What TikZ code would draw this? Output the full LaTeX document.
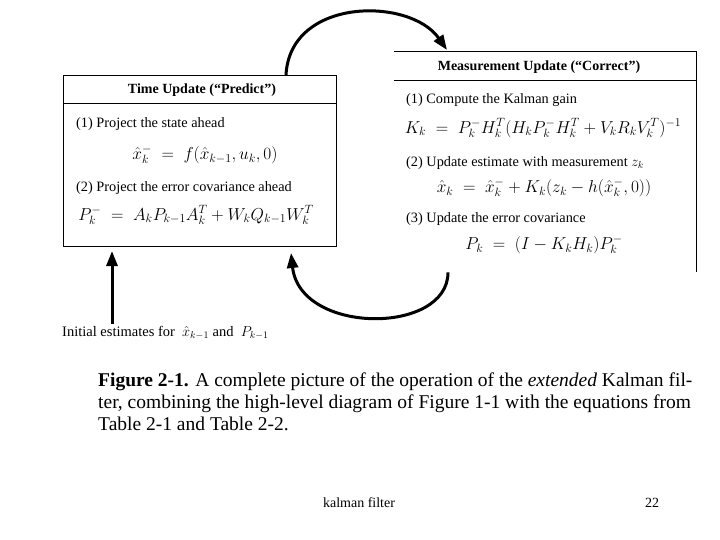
\documentclass[tikz,border=0pt]{standalone}
\usepackage{fontspec}
\setmainfont{Liberation Serif}
\usepackage{tikz}
\usetikzlibrary{arrows.meta,positioning,calc}

\begin{document}
\begin{tikzpicture}[
  x=1pt, y=-1pt,
  >={Triangle[length=15pt,width=11pt]},
  every node/.style={inner sep=0pt},
  updatebox/.style={
    rectangle, draw=black, line width=1pt,
    minimum width=273pt, minimum height=171pt, anchor=north west
  },
  headtext/.style={font=\fontsize{14}{16}\selectfont\bfseries},
  steptext/.style={font=\fontsize{14.3}{16}\selectfont, anchor=west},
  eqtext/.style={font=\fontsize{17}{20}\selectfont},
  cyclearrow/.style={->, line width=3pt},
  boxline/.style={line width=1pt}
]
\useasboundingbox (0,0) rectangle (720,540);

% Time update box (left)
\node[updatebox] (predict) at (63,75) {};
\draw[boxline] ($(predict.north west)+(0,29)$) coordinate (phead) -- (phead -| predict.east);
\node[headtext] (predicthead) at (202,90) {Time Update (``Predict'')};
\node[steptext] (pstep1) at (76,124) {(1) Project the state ahead};
\node[eqtext] (peq1) at (205,155) {$\hat{x}_k^- \;=\; f(\hat{x}_{k-1}, u_k, 0)$};
\node[steptext] (pstep2) at (76,188) {(2) Project the error covariance ahead};
\node[eqtext, font=\fontsize{18.5}{20}\selectfont] (peq2) at (196,215)
  {$P_k^- \;=\; A_k P_{k-1} A_k^T + W_k Q_{k-1} W_k^T$};

% Measurement update box (right, cut at left and bottom)
\node[minimum width=302pt, minimum height=220pt, anchor=north west] (correct) at (394,52) {};
\draw[boxline] (correct.north west) -- (correct.north east) -- (correct.south east);
\draw[boxline] ($(correct.north west)+(0,29)$) coordinate (chead) -- (chead -| correct.east);
\node[headtext] (correcthead) at (539,67) {Measurement Update (``Correct'')};
\node[steptext] (cstep1) at (406,100) {(1) Compute the Kalman gain};
\node[eqtext, font=\fontsize{17.8}{20}\selectfont] (ceq1) at (543,128)
  {$K_k \;=\; P_k^- H_k^T (H_k P_k^- H_k^T + V_k R_k V_k^T)^{-1}$};
\node[steptext] (cstep2) at (406,163) {(2) Update estimate with measurement $z_k$};
\node[eqtext] (ceq2) at (544,188) {$\hat{x}_k \;=\; \hat{x}_k^- + K_k(z_k - h(\hat{x}_k^-, 0))$};
\node[steptext] (cstep3) at (406,219) {(3) Update the error covariance};
\node[eqtext] (ceq3) at (544,245) {$P_k \;=\; (I - K_k H_k) P_k^-$};

% Initial estimates
\node[font=\fontsize{14.5}{16}\selectfont, anchor=west] (init) at (62,333)
  {Initial estimates for \ $\hat{x}_{k-1}$ and \ $P_{k-1}$};

% Cycle arrows
\coordinate (predout) at ($(predict.north east)+(-51,0)$);
\coordinate (corrin) at ($(correct.north west)+(53,-2)$);
\coordinate (corrout) at ($(correct.south west)+(54,0)$);
\coordinate (predin) at ($(predict.south east)+(-46,6)$);
\draw[cyclearrow] (predout) .. controls (290,-3) and (410,-3) .. (corrin);
\draw[cyclearrow] (corrout) .. controls (448,335) and (300,335) .. (predin);
\draw[cyclearrow] ($(init.north -| predict.south west)+(49,-2)$) -- ($(predict.south west)+(49,4)$);

% Caption
\node[anchor=north west, align=left, font=\fontsize{19.5}{22}\selectfont] (caption) at (98,373)
  {\textbf{Figure 2-1.} A complete picture of the operation of the \textit{extended} Kalman fil-\\
   ter, combining the high-level diagram of Figure 1-1 with the equations from\\
   Table 2-1 and Table 2-2.};

% Footer
\node[font=\fontsize{14}{16}\selectfont] (footer) at (359,503) {kalman filter};
\node[font=\fontsize{14}{16}\selectfont] (pagenum) at (652,503) {22};
\end{tikzpicture}
\end{document}
